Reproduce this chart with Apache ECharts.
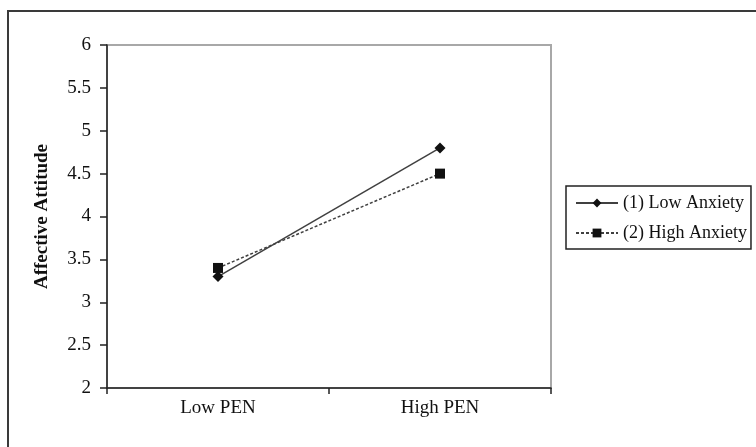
<!DOCTYPE html>
<html>
<head>
<meta charset="utf-8">
<script src="https://cdn.jsdelivr.net/npm/echarts@6/dist/echarts.min.js"></script>
<style>
html,body{margin:0;padding:0;background:#fff;}
#c{width:756px;height:447px;}
</style>
</head>
<body>
<div id="c"></div>
<script>
const categories = ['Low PEN', 'High PEN'];
const lowAnxiety = [3.3, 4.8];
const highAnxiety = [3.4, 4.5];
const seriesNames = ['(1) Low Anxiety', '(2) High Anxiety'];
const yTicks = {min: 2, max: 6, interval: 0.5};

const FONT = '"Liberation Serif", "Times New Roman", serif';
const chart = echarts.init(document.getElementById('c'), null, {renderer: 'canvas'});
chart.setOption({
  animation: false,
  backgroundColor: '#fff',
  graphic: [{
    type: 'rect',
    shape: {x: 8, y: 11, width: 800, height: 500},
    style: {fill: 'none', stroke: '#3a3a3a', lineWidth: 2},
    z: -1
  }],
  grid: {
    left: 107, top: 45, width: 444, height: 343,
    show: true, borderColor: '#a8a8a8', borderWidth: 2,
    containLabel: false
  },
  legend: {
    orient: 'vertical',
    left: 566, top: 186,
    padding: [8, 4, 7, 9],
    borderColor: '#222', borderWidth: 1.5,
    itemWidth: 42, itemHeight: 11,
    itemGap: 12,
    textStyle: {fontFamily: FONT, fontSize: 18, color: '#111'},
    data: seriesNames
  },
  xAxis: {
    type: 'category',
    data: categories,
    boundaryGap: true,
    axisLine: {lineStyle: {color: '#222', width: 1.5}},
    axisTick: {show: true, length: 6, inside: false, lineStyle: {color: '#222', width: 1.5}},
    axisLabel: {fontFamily: FONT, fontSize: 19, color: '#111', margin: 11},
    splitLine: {show: false}
  },
  yAxis: {
    type: 'value',
    min: yTicks.min, max: yTicks.max, interval: yTicks.interval,
    name: 'Affective Attitude',
    nameLocation: 'middle',
    nameGap: 55,
    nameRotate: 90,
    nameTextStyle: {fontFamily: FONT, fontSize: 19, fontWeight: 'bold', color: '#111'},
    axisLine: {show: true, lineStyle: {color: '#222', width: 1.5}},
    axisTick: {show: true, length: 7, inside: false, lineStyle: {color: '#222', width: 1.5}},
    axisLabel: {fontFamily: FONT, fontSize: 19, color: '#111', margin: 16},
    splitLine: {show: false}
  },
  series: [
    {
      name: seriesNames[0],
      type: 'line',
      data: lowAnxiety,
      symbol: 'diamond',
      symbolSize: 11,
      itemStyle: {color: '#111'},
      lineStyle: {color: '#404040', width: 1.5, type: 'solid'}
    },
    {
      name: seriesNames[1],
      type: 'line',
      data: highAnxiety,
      symbol: 'rect',
      symbolSize: 10,
      itemStyle: {color: '#111'},
      lineStyle: {color: '#404040', width: 1.5, type: [3, 2]}
    }
  ]
});
</script>
</body>
</html>
